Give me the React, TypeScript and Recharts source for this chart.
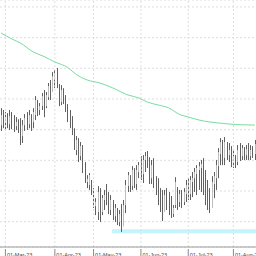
import React from "react";
import {
  Bar,
  CartesianGrid,
  ComposedChart,
  Line,
  ReferenceArea,
  ReferenceLine,
  XAxis,
  YAxis,
} from "recharts";

const MA_GREEN = "#78dca0";
const SUPPORT = "#c6f4fc";
const WICK = "#606060";
const UP_BODY = "#bdbdbd";
const GRID = "#dedede";

// trading days start 27-Feb-23, market closed on these dates
const HOLIDAYS = ["2023-04-07", "2023-04-10", "2023-05-01"];

const MONTH_TICKS = [
  "2023-03-01",
  "2023-04-03",
  "2023-05-02",
  "2023-06-01",
  "2023-07-03",
  "2023-08-01",
];
const TICK_LABELS = [
  "01-Mar-23",
  "01-Apr-23",
  "01-May-23",
  "01-Jun-23",
  "01-Jul-23",
  "01-Aug-23",
];

const Y_TICKS = [15, 30, 45, 60, 75, 90, 105, 120, 135, 150, 165, 180, 195, 210, 225, 240];

const HIGH = [
  141.0, 139.2, 137.2, 136.2, 139.2, 137.2, 134.2, 132.2, 130.2, 131.2,
  129.4, 135.2, 137.2, 139.2, 135.2, 141.0, 152.8, 149.0, 146.0, 155.8,
  158.8, 156.8, 165.6, 168.6, 176.3, 178.3, 180.3, 164.6, 163.6, 160.6,
  153.8, 145.0, 139.2, 133.2, 121.4, 113.7, 111.7, 107.9, 104.9, 88.3,
  75.5, 77.5, 70.8, 62.8, 53.0, 64.8, 62.8, 56.0, 61.0, 66.8,
  59.0, 56.0, 51.2, 47.2, 43.4, 41.4, 47.2, 51.2, 70.8, 78.5,
  75.5, 84.3, 82.5, 85.3, 88.3, 94.1, 95.1, 98.1, 99.1, 93.1,
  90.3, 92.1, 74.5, 72.5, 62.8, 61.0, 61.0, 62.8, 59.0, 55.0,
  46.2, 73.5, 63.8, 61.0, 61.0, 62.8, 70.8, 72.5, 74.5, 78.5,
  82.5, 85.3, 88.3, 90.3, 92.1, 80.5, 70.8, 62.8, 74.5, 78.5,
  90.3, 101.9, 111.7, 109.9, 112.7, 107.9, 106.9, 103.9, 100.1, 95.1,
  104.9, 106.9, 104.9, 102.9, 104.9, 106.9, 104.9, 103.9, 109.9,
];

const LOW = [
  118.7, 121.4, 119.7, 121.4, 119.7, 120.4, 117.7, 119.7, 116.7, 104.9,
  106.9, 118.7, 119.7, 121.4, 118.7, 121.4, 129.4, 133.2, 134.2, 139.2,
  132.2, 141.0, 149.0, 149.0, 156.8, 160.6, 160.6, 143.0, 144.0, 145.0,
  137.2, 127.4, 121.4, 114.7, 100.1, 95.1, 88.3, 90.3, 77.5, 67.8,
  62.8, 61.0, 56.0, 43.4, 36.4, 31.6, 29.6, 36.4, 41.4, 46.2,
  37.4, 36.4, 31.6, 29.6, 26.6, 25.6, 19.9, 25.6, 38.4, 59.0,
  59.0, 61.0, 62.8, 61.0, 72.5, 70.8, 67.8, 78.5, 82.5, 66.8,
  66.8, 62.8, 56.0, 46.2, 39.4, 30.6, 39.4, 41.4, 36.4, 33.6,
  34.6, 43.4, 41.4, 44.4, 43.4, 46.2, 49.2, 51.2, 51.2, 54.0,
  59.0, 56.0, 61.0, 59.0, 56.0, 46.2, 41.4, 38.4, 43.4, 53.0,
  61.0, 72.5, 85.3, 85.3, 85.3, 90.3, 88.3, 83.3, 82.5, 82.5,
  85.3, 89.3, 90.3, 90.3, 90.3, 90.3, 90.3, 92.3, 90.3,
];

const OPEN = [
  124.4, 134.2, 127.4, 131.2, 125.4, 133.2, 129.4, 123.4, 127.4, 121.4,
  113.7, 124.4, 129.4, 125.4, 133.2, 127.4, 134.2, 147.0, 139.2, 143.0,
  150.8, 143.0, 151.8, 160.6, 156.8, 168.6, 176.3, 162.6, 147.0, 156.8,
  149.0, 141.0, 133.2, 125.4, 117.7, 100.1, 109.9, 94.1, 101.9, 82.5,
  68.8, 65.8, 68.8, 59.0, 45.2, 39.4, 57.0, 39.4, 51.2, 59.0,
  53.0, 41.4, 49.2, 35.4, 41.4, 29.6, 39.4, 25.6, 46.2, 64.8,
  72.5, 64.8, 80.5, 66.8, 78.5, 84.3, 76.5, 90.3, 95.1, 86.3,
  72.5, 84.3, 66.8, 61.0, 51.2, 45.2, 39.4, 55.0, 46.2, 41.4,
  37.4, 46.2, 62.8, 49.2, 57.0, 49.2, 57.0, 64.8, 57.0, 68.8,
  72.5, 76.5, 80.5, 82.5, 85.3, 64.8, 53.0, 46.2, 43.4, 66.8,
  72.5, 84.3, 96.1, 105.9, 92.3, 105.9, 95.1, 100.1, 88.3, 92.3,
  88.3, 100.1, 94.1, 100.1, 95.1, 100.1, 94.1, 100.1, 96.1,
];

const CLOSE = [
  134.2, 127.4, 131.2, 125.4, 133.2, 129.4, 123.4, 127.4, 121.4, 111.7,
  124.4, 131.2, 125.4, 134.2, 127.4, 137.2, 149.0, 139.2, 143.0, 152.8,
  141.0, 153.8, 162.6, 152.8, 172.3, 175.3, 164.6, 147.0, 158.8, 149.0,
  141.0, 131.2, 125.4, 117.7, 103.9, 109.9, 92.3, 103.9, 80.5, 70.8,
  71.8, 75.5, 58.0, 46.2, 49.2, 59.0, 35.4, 53.0, 56.0, 51.2,
  41.4, 51.2, 35.4, 43.4, 29.6, 37.4, 23.6, 46.2, 65.8, 75.5,
  62.8, 80.5, 68.8, 80.5, 85.3, 75.5, 90.3, 94.1, 85.3, 70.8,
  85.3, 66.8, 59.0, 51.2, 43.4, 33.6, 56.0, 46.2, 41.4, 37.4,
  43.4, 68.8, 47.2, 57.0, 47.2, 59.0, 65.8, 55.0, 70.8, 72.5,
  78.5, 82.5, 84.3, 86.3, 62.8, 51.2, 46.2, 41.4, 68.8, 74.5,
  85.3, 98.1, 107.9, 92.3, 107.9, 95.1, 100.1, 88.3, 94.1, 86.3,
  100.1, 94.1, 101.9, 94.1, 100.9, 94.1, 100.1, 96.1, 105.9,
];

// moving average, read at a few bars (index -> value)
const MA_AT = [0, 5, 9, 15, 20, 25, 31, 35, 40, 46, 52, 59, 64, 68, 73, 78, 83, 87, 92, 97, 101, 106, 112, 118];
const MA_VAL = [
  214.5, 208.7, 204.7, 195.9, 191.5, 186.2, 180.8, 173.9, 168.6, 165.6, 160.7, 153.9,
  151.0, 147.0, 144.1, 141.2, 134.8, 132.4, 129.4, 127.5, 126.5, 125.5, 124.7, 124.5,
];

// support band under the May low
const SUPPORT_FROM = 52;
const SUPPORT_RANGE = [18.6, 22.5];

function tradingDays(count: number) {
  const out: string[] = [];
  const d = new Date(Date.UTC(2023, 1, 27));
  while (out.length < count) {
    const iso = d.toISOString().slice(0, 10);
    const wd = d.getUTCDay();
    if (wd !== 0 && wd !== 6 && !HOLIDAYS.includes(iso)) out.push(iso);
    d.setUTCDate(d.getUTCDate() + 1);
  }
  return out;
}

const DATES = tradingDays(HIGH.length);

const data = DATES.map((date, i) => {
  const k = MA_AT.indexOf(i);
  return {
    date,
    open: OPEN[i],
    high: HIGH[i],
    low: LOW[i],
    close: CLOSE[i],
    ma: k >= 0 ? MA_VAL[k] : null,
  };
});

function Candle(props: any) {
  const { x, y, width, height, payload } = props;
  if (x == null || y == null || !payload) return null;
  const { open, close, high, low } = payload;
  const ratio = high === low ? 0 : height / (high - low);
  // snap to a pixel column so each bar stays a crisp 1px stroke
  const cx = Math.floor(x + width / 2) + 0.5;
  const yOpen = y + (high - open) * ratio;
  const yClose = y + (high - close) * ratio;
  const up = close >= open;
  const top = Math.min(yOpen, yClose);
  const bh = Math.max(Math.abs(yOpen - yClose), 1);
  return (
    <g>
      <line x1={cx} x2={cx} y1={y} y2={y + height} stroke={WICK} strokeWidth={1} />
      {up && <rect x={cx - 0.5} y={top} width={1} height={bh} fill={UP_BODY} />}
    </g>
  );
}

function MonthTick({ x, y, payload }: any) {
  const idx = MONTH_TICKS.indexOf(payload?.value);
  if (idx < 0) return null;
  return (
    <g>
      <line x1={x} x2={x} y1={y} y2={y + 10} stroke="#8a8a8a" strokeWidth={1} />
      <text
        x={x + 1.5}
        y={y + 8.2}
        textAnchor="start"
        style={{ fontSize: 5.5, fill: "#444", fontFamily: "Liberation Sans" }}
      >
        {TICK_LABELS[idx]}
      </text>
    </g>
  );
}

export default function App() {
  return (
    <div style={{ position: "fixed", left: 0, top: 0, width: 256, height: 256, background: "#fff" }}>
      <ComposedChart
        width={256}
        height={256}
        data={data}
        margin={{ top: 0, right: 0, bottom: 0, left: 0 }}
        barCategoryGap="10%"
      >
        <CartesianGrid vertical={false} stroke={GRID} strokeDasharray="2 2" />
        {MONTH_TICKS.map((t) => (
          <ReferenceLine key={t} x={t} stroke={GRID} strokeDasharray="2 2" />
        ))}
        <XAxis
          dataKey="date"
          ticks={MONTH_TICKS}
          interval={0}
          tickLine={false}
          tickSize={0}
          height={9}
          axisLine={{ stroke: "#999" }}
          tick={<MonthTick />}
        />
        <YAxis hide domain={[5.2, 246.8]} ticks={Y_TICKS} allowDataOverflow />
        <ReferenceArea
          x1={DATES[SUPPORT_FROM]}
          x2={DATES[DATES.length - 1]}
          y1={SUPPORT_RANGE[0]}
          y2={SUPPORT_RANGE[1]}
          fill={SUPPORT}
          fillOpacity={1}
          stroke="none"
        />
        <Bar
          dataKey={(d: any) => [d.low, d.high]}
          shape={<Candle />}
          isAnimationActive={false}
        />
        <Line
          dataKey="ma"
          type="monotone"
          stroke={MA_GREEN}
          strokeWidth={1}
          dot={false}
          activeDot={false}
          legendType="none"
          connectNulls
          isAnimationActive={false}
        />
      </ComposedChart>
    </div>
  );
}
